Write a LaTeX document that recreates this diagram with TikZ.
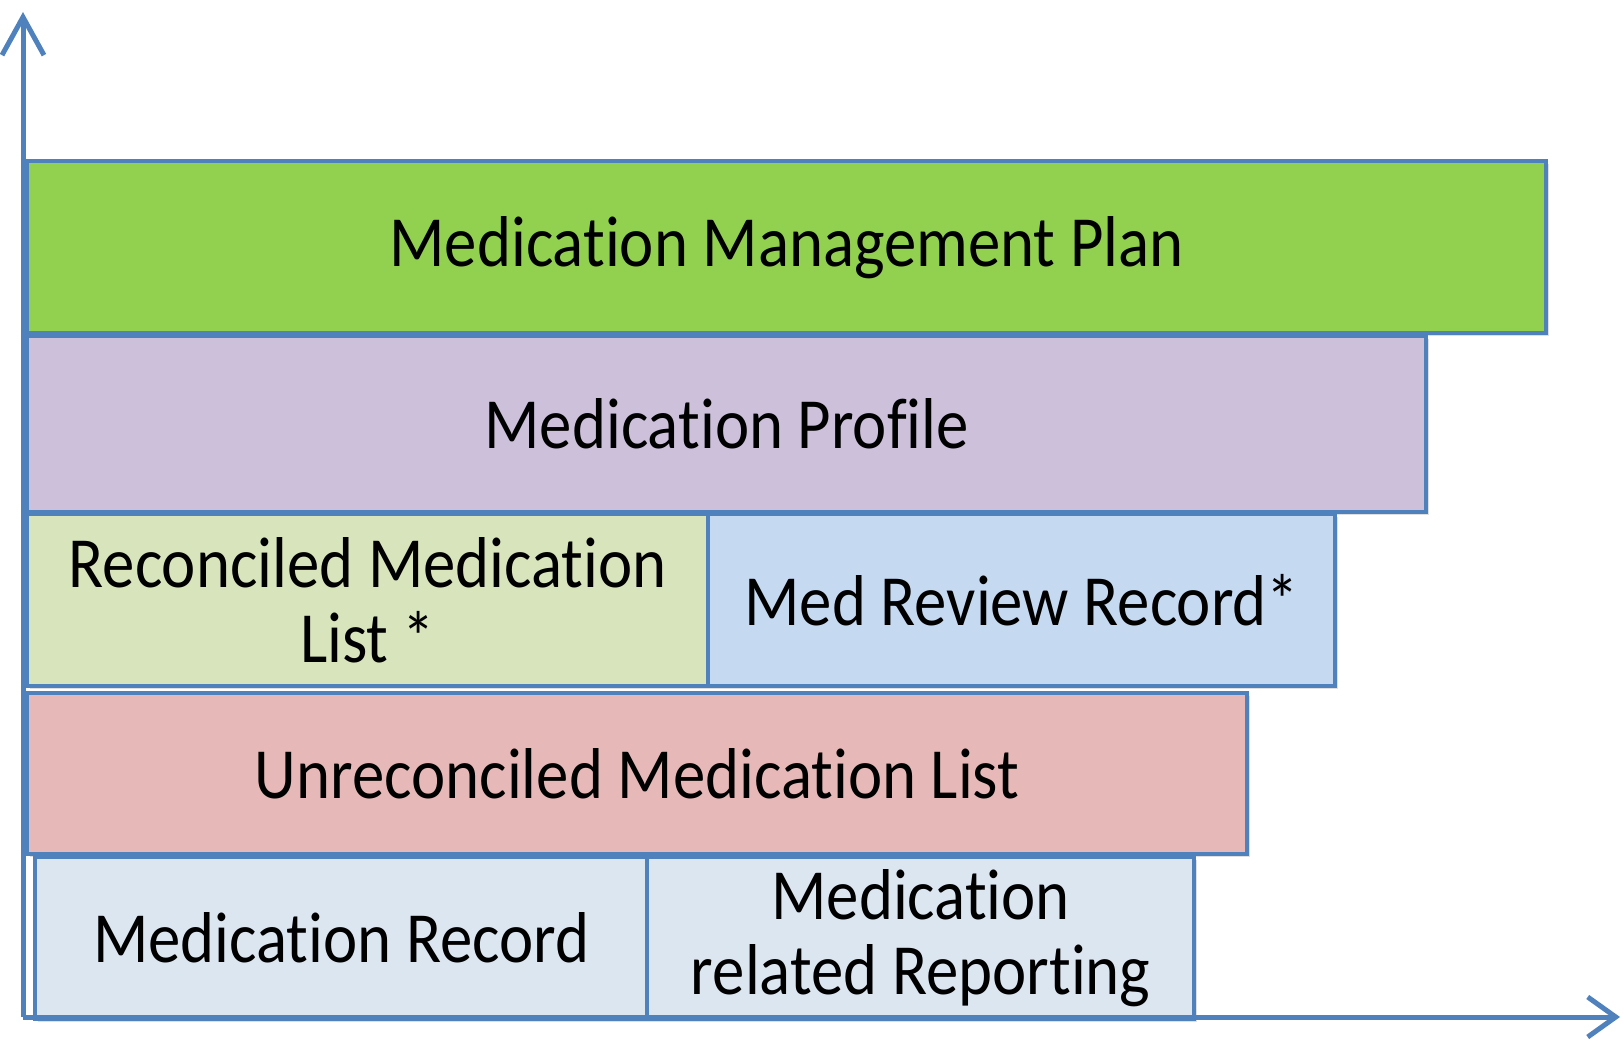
\documentclass[tikz,border=0pt]{standalone}
\usepackage{fontspec}
\setmainfont{Carlito}[FakeStretch=0.9,Ligatures=NoCommon]
\usetikzlibrary{arrows.meta,shadows}
\definecolor{edge}{HTML}{4F81BD}
\definecolor{cgreen}{HTML}{92D050}
\definecolor{cpurple}{HTML}{CCC0DA}
\definecolor{crecon}{HTML}{D8E4BC}
\definecolor{creview}{HTML}{C5D9F1}
\definecolor{cunrec}{HTML}{E6B8B7}
\definecolor{cbottom}{HTML}{DCE6F1}
\begin{document}
\begin{tikzpicture}[x=0.5pt,y=-0.5pt,
  box/.style={draw=edge, line width=2.2pt, rectangle, anchor=north west, inner sep=0pt,
    align=center, font=\fontsize{36}{37.5}\selectfont, text=black,
    drop shadow={shadow xshift=1.5pt, shadow yshift=-1.5pt, opacity=0.25}},
  axis/.style={draw=edge, line width=2.5pt}]
\useasboundingbox (0,0) rectangle (1623,1042);
\node[box, fill=cgreen, minimum width=759.5pt, minimum height=86pt] (mmp) at (25,159) {Medication Management Plan};
\node[box, fill=cpurple, minimum width=699.5pt, minimum height=88pt] (mp) at (25,334) {Medication Profile};
\node[box, fill=crecon, minimum width=340.5pt, minimum height=86pt] (rml) at (25,512) {Reconciled Medication\\List *};
\node[box, fill=creview, minimum width=313.5pt, minimum height=86pt] (mrr) at (706,512) {Med Review Record*};
\node[box, fill=cunrec, minimum width=610pt, minimum height=80.5pt] (uml) at (25,691) {Unreconciled Medication List};
\node[box, fill=cbottom, minimum width=306pt, minimum height=81pt] (mr) at (33,855) {Medication Record};
\node[box, fill=cbottom, minimum width=273.5pt, minimum height=81pt] (mrp) at (645,855) {Medication\\related Reporting};
\coordinate (O) at (23,1017);
\coordinate (Ytop) at (23,12);
\coordinate (Xend) at (1620,1017);
\draw[axis, -{Straight Barb[length=19pt,width=21pt]}] (O) -- (Ytop);
\draw[axis, -{Straight Barb[length=14pt,width=20pt]}] (O) -- (Xend);
\end{tikzpicture}
\end{document}
